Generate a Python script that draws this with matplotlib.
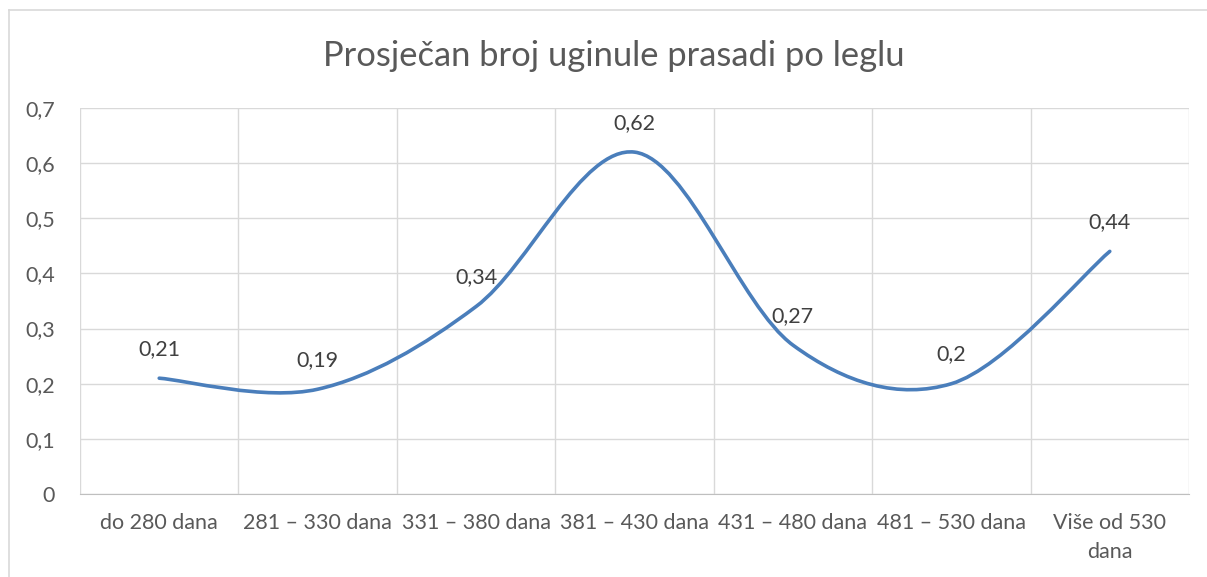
import numpy as np
import matplotlib.pyplot as plt
from matplotlib.path import Path
from matplotlib.patches import PathPatch
from matplotlib.lines import Line2D

# data
kategorije = ['do 280 dana', '281 – 330 dana', '331 – 380 dana', '381 – 430 dana',
              '431 – 480 dana', '481 – 530 dana', 'Više od 530\ndana']
vrijednosti = [0.21, 0.19, 0.34, 0.62, 0.27, 0.2, 0.44]
oznake = ['0,21', '0,19', '0,34', '0,62', '0,27', '0,2', '0,44']
y_ticks = [0, 0.1, 0.2, 0.3, 0.4, 0.5, 0.6, 0.7]
y_labels = ['0', '0,1', '0,2', '0,3', '0,4', '0,5', '0,6', '0,7']

plt.rcParams['font.family'] = ['Lato', 'DejaVu Sans']
siva = '#595959'
plava = '#4A7EBB'
fs = 15.5

W, H = 1207, 577
fig = plt.figure(figsize=(W/100, H/100), dpi=100)
ax = fig.add_axes([80/W, 1-494/H, (1189-80)/W, (494-108)/H])

x = np.arange(len(vrijednosti))
y = np.array(vrijednosti)

# smoothed line (Catmull-Rom style bezier, like Excel "smoothed line")
verts = [(x[0], y[0])]
codes = [Path.MOVETO]
n = len(x)
for i in range(n-1):
    p0 = np.array([x[max(i-1, 0)], y[max(i-1, 0)]])
    p1 = np.array([x[i], y[i]])
    p2 = np.array([x[i+1], y[i+1]])
    p3 = np.array([x[min(i+2, n-1)], y[min(i+2, n-1)]])
    c1 = p1 + (p2 - p0)/6
    c2 = p2 - (p3 - p1)/6
    verts += [tuple(c1), tuple(c2), tuple(p2)]
    codes += [Path.CURVE4]*3
ax.add_patch(PathPatch(Path(verts, codes), fill=False, edgecolor=plava,
                       lw=2.6, capstyle='round', zorder=3))

for xi, yi, t in zip(x, y, oznake):
    ax.annotate(t, (xi, yi), xytext=(0, 21), textcoords='offset points',
                ha='center', va='center', fontsize=fs, color='#404040')

ax.set_xlim(-0.5, n-0.5)
ax.set_ylim(0, 0.7)
ax.set_yticks(y_ticks)
ax.set_yticklabels(y_labels)
ax.set_xticks(x)
ax.set_xticklabels(kategorije, linespacing=1.55)
ax.set_xticks(np.arange(-0.5, n), minor=True)
ax.grid(True, axis='y', color='#D9D9D9', lw=1)
ax.grid(True, axis='x', which='minor', color='#D9D9D9', lw=1)
ax.tick_params(axis='both', which='both', length=0, colors=siva, labelsize=fs)
ax.tick_params(axis='x', pad=14)
ax.tick_params(axis='y', pad=18)
for s in ['top', 'right', 'left']:
    ax.spines[s].set_visible(False)
ax.spines['bottom'].set_color('#BFBFBF')
ax.set_axisbelow(True)

fig.text(614/W, 1-56/H, 'Prosječan broj uginule prasadi po leglu',
         ha='center', va='center', fontsize=24.8, color=siva)

# outer chart border (cropped at right/bottom)
fig.add_artist(Line2D([9/W, 1], [1-10/H, 1-10/H], color='#D9D9D9', lw=1.2))
fig.add_artist(Line2D([9/W, 9/W], [0, 1-10/H], color='#D9D9D9', lw=1.2))

fig.savefig('out.png', dpi=100)
